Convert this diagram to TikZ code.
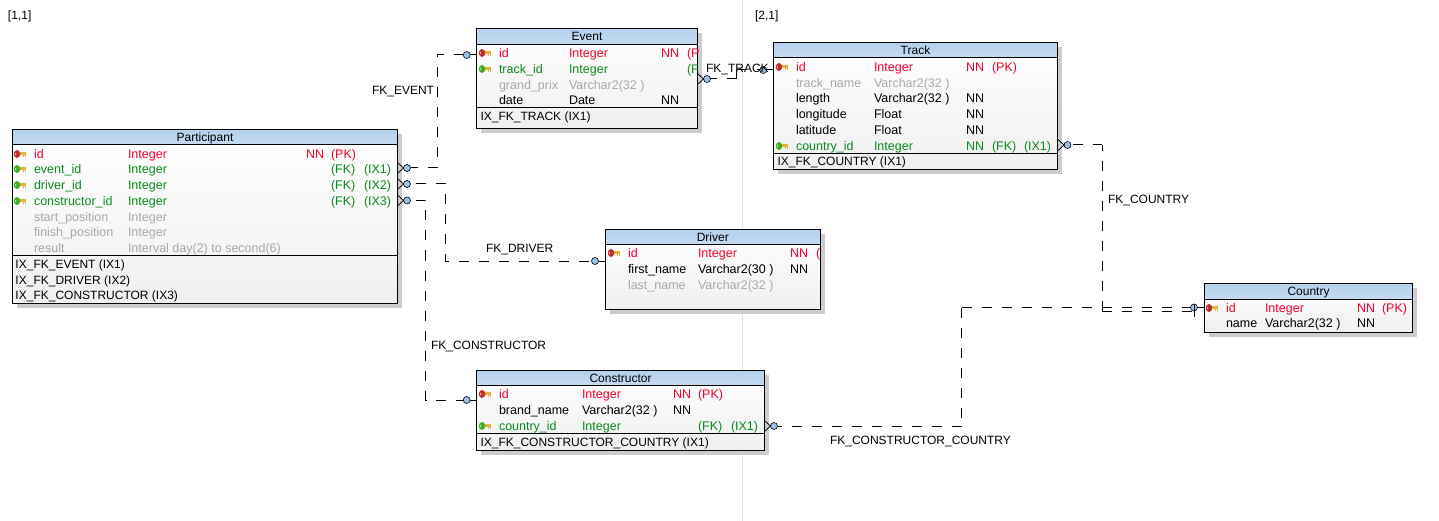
\documentclass[tikz,border=0pt]{standalone}
\usepackage{fontspec}
\setmainfont{Liberation Sans}
\usetikzlibrary{shadows}
\definecolor{keyred}{HTML}{C02A2A}
\definecolor{keygreen}{HTML}{3FB01E}
\definecolor{keyshaft}{HTML}{E2B23A}
\definecolor{pkcolor}{HTML}{F5002D}
\definecolor{fkcolor}{HTML}{0A8A1E}
\definecolor{dimcolor}{HTML}{A8A8A8}
\definecolor{dotblue}{HTML}{9CC0E8}
\definecolor{headtop}{HTML}{B5D1EC}
\definecolor{headbot}{HTML}{C4DAF1}

\newcommand{\cellnode}[5]{\if\relax\detokenize{#5}\relax\else\node[#1] (#2) at (#3,#4) {#5};\fi}
\newcommand{\fieldrow}[8]{%
  \cellnode{#2}{#1a}{\colname}{#3}{#4}
  \cellnode{#2}{#1b}{\coltype}{#3}{#5}
  \cellnode{#2}{#1c}{\colnn}{#3}{#6}
  \cellnode{#2}{#1d}{\colkey}{#3}{#7}
  \cellnode{#2}{#1e}{\colix}{#3}{#8}
}

\begin{document}
\begin{tikzpicture}[x=1pt, y=-1pt,
    every node/.style={font=\fontsize{12}{14}\selectfont, inner sep=0pt, outer sep=0pt},
    tablebox/.style={draw, line width=1pt, anchor=north west, top color=white, bottom color=black!6,
      drop shadow={shadow xshift=4.5pt, shadow yshift=-4.5pt, fill=black!20, opacity=1}},
    headbox/.style={draw, line width=1pt, anchor=north west, minimum height=15.5pt, text height=10.5pt, text depth=2.5pt,
      top color=headtop, bottom color=headbot},
    fieldtext/.style={anchor=base west, yshift=-0.8pt, font=\fontsize{12.5}{14}\selectfont},
    pkrow/.style={fieldtext, text=pkcolor},
    fkrow/.style={fieldtext, text=fkcolor},
    dimrow/.style={fieldtext, text=dimcolor},
    plainrow/.style={fieldtext, text=black},
    fktext/.style={anchor=base west, yshift=-0.8pt, text=black},
    fkline/.style={line width=1pt, dash pattern=on 10pt off 10pt},
    fkstub/.style={line width=1pt},
    fkdot/.style={draw, circle, fill=dotblue, line width=0.6pt, minimum size=7pt},
    pics/keyicon/.style={code={
      \fill[keyshaft] (-1,-1.8) rectangle (6,1);
      \fill[keyshaft] (2.8,1) rectangle (4,2.6);
      \fill[keyshaft] (4.8,1) rectangle (6,2.6);
      \fill[#1] (-3,0) ellipse (3.2 and 4);
      \fill[white!70!#1] (-4.4,0) ellipse (0.7 and 1.3);
    }},
    pics/crowfoot/.style={code={
      \draw[line width=0.8pt] (-6,-5.5) -- (0,0) -- (-6,5.5);
    }}
  ]
  \useasboundingbox (0,0) rectangle (1439,521);

  % Page border and page labels
  \coordinate (S1) at (742.5,0);
  \coordinate (S2) at (742.5,521);
  \draw[black!10, line width=1pt] (S1) -- (S2);
  \node[fktext] (L1) at (8,19) {[1,1]};
  \node[fktext] (L2) at (755,19) {[2,1]};

  % Participant
  \node[tablebox, minimum width=385pt, minimum height=174pt] (Participant) at (12.5,129.5) {};
  \node[headbox, minimum width=385pt] (PH) at (Participant.north west) {Participant};
  \draw[line width=1pt] (Participant.west |- 0,255.5) -- (Participant.east |- 0,255.5);
  \def\colname{34}\def\coltype{128}\def\colnn{306}\def\colkey{331}\def\colix{364}
  \fieldrow{P1}{pkrow}{158}{id}{Integer}{NN}{(PK)}{}
  \fieldrow{P2}{fkrow}{173}{event\_id}{Integer}{}{(FK)}{(IX1)}
  \fieldrow{P3}{fkrow}{189}{driver\_id}{Integer}{}{(FK)}{(IX2)}
  \fieldrow{P4}{fkrow}{205}{constructor\_id}{Integer}{}{(FK)}{(IX3)}
  \fieldrow{P5}{dimrow}{221}{start\_position}{Integer}{}{}{}
  \fieldrow{P6}{dimrow}{236}{finish\_position}{Integer}{}{}{}
  \fieldrow{P7}{dimrow}{252}{result}{Interval day(2) to second(6)}{}{}{}
  \node[fktext] (PI1) at (15.5,268) {IX\_FK\_EVENT (IX1)};
  \node[fktext] (PI2) at (15.5,284) {IX\_FK\_DRIVER (IX2)};
  \node[fktext] (PI3) at (15.5,299) {IX\_FK\_CONSTRUCTOR (IX3)};
  \pic at (20,154) {keyicon=keyred};
  \foreach \yy in {169,185,201} \pic at (20,\yy) {keyicon=keygreen};

  % Event
  \node[tablebox, minimum width=220.5pt, minimum height=99.5pt] (Event) at (476.8,28.8) {};
  \node[headbox, minimum width=220.5pt] (EH) at (Event.north west) {Event};
  \draw[line width=1pt] (Event.west |- 0,107.5) -- (Event.east |- 0,107.5);
  \def\colname{499}\def\coltype{569}\def\colnn{661}\def\colkey{687}\def\colix{720}
  \fieldrow{E1}{pkrow}{57}{id}{Integer}{NN}{(P}{}
  \fieldrow{E2}{fkrow}{73}{track\_id}{Integer}{}{(F}{}
  \fieldrow{E3}{dimrow}{89}{grand\_prix}{Varchar2(32 )}{}{}{}
  \fieldrow{E4}{plainrow}{104}{date}{Date}{NN}{}{}
  \node[fktext] (EI1) at (480.5,120) {IX\_FK\_TRACK (IX1)};
  \pic at (485,53) {keyicon=keyred};
  \pic at (485,69) {keyicon=keygreen};

  % Track
  \node[tablebox, minimum width=284pt, minimum height=127pt] (Track) at (773.5,42.5) {};
  \node[headbox, minimum width=284pt] (TH) at (Track.north west) {Track};
  \draw[line width=1pt] (Track.west |- 0,153.5) -- (Track.east |- 0,153.5);
  \def\colname{796}\def\coltype{874}\def\colnn{966}\def\colkey{992}\def\colix{1024}
  \fieldrow{T1}{pkrow}{71}{id}{Integer}{NN}{(PK)}{}
  \fieldrow{T2}{dimrow}{87}{track\_name}{Varchar2(32 )}{}{}{}
  \fieldrow{T3}{plainrow}{102}{length}{Varchar2(32 )}{NN}{}{}
  \fieldrow{T4}{plainrow}{118}{longitude}{Float}{NN}{}{}
  \fieldrow{T5}{plainrow}{134}{latitude}{Float}{NN}{}{}
  \fieldrow{T6}{fkrow}{150}{country\_id}{Integer}{NN}{(FK)}{(IX1)}
  \node[fktext] (TI1) at (777.5,165) {IX\_FK\_COUNTRY (IX1)};
  \pic at (782,67) {keyicon=keyred};
  \pic at (782,146) {keyicon=keygreen};

  % Driver
  \node[tablebox, minimum width=215.5pt, minimum height=80pt] (Driver) at (605,229.5) {};
  \node[headbox, minimum width=215.5pt] (DH) at (Driver.north west) {Driver};
  \def\colname{628}\def\coltype{698}\def\colnn{790}\def\colkey{816}\def\colix{850}
  \fieldrow{D1}{pkrow}{257}{id}{Integer}{NN}{(}{}
  \fieldrow{D2}{plainrow}{273}{first\_name}{Varchar2(30 )}{NN}{}{}
  \fieldrow{D3}{dimrow}{289}{last\_name}{Varchar2(32 )}{}{}{}
  \pic at (614,253) {keyicon=keyred};

  % Constructor
  \node[tablebox, minimum width=287.5pt, minimum height=80pt] (Constructor) at (476.8,370.3) {};
  \node[headbox, minimum width=287.5pt] (CH) at (Constructor.north west) {Constructor};
  \draw[line width=1pt] (Constructor.west |- 0,433.7) -- (Constructor.east |- 0,433.7);
  \def\colname{499}\def\coltype{582}\def\colnn{673}\def\colkey{698}\def\colix{731}
  \fieldrow{C1}{pkrow}{398}{id}{Integer}{NN}{(PK)}{}
  \fieldrow{C2}{plainrow}{414}{brand\_name}{Varchar2(32 )}{NN}{}{}
  \fieldrow{C3}{fkrow}{430}{country\_id}{Integer}{}{(FK)}{(IX1)}
  \node[fktext] (CI1) at (480.5,446) {IX\_FK\_CONSTRUCTOR\_COUNTRY (IX1)};
  \pic at (485,394) {keyicon=keyred};
  \pic at (485,426) {keyicon=keygreen};

  % Country
  \node[tablebox, minimum width=207.5pt, minimum height=48.6pt] (Country) at (1204.8,283.7) {};
  \node[headbox, minimum width=207.5pt] (NH) at (Country.north west) {Country};
  \def\colname{1226}\def\coltype{1265}\def\colnn{1357}\def\colkey{1382}\def\colix{1420}
  \fieldrow{N1}{pkrow}{312}{id}{Integer}{NN}{(PK)}{}
  \fieldrow{N2}{plainrow}{327}{name}{Varchar2(32 )}{NN}{}{}
  \pic at (1212,308) {keyicon=keyred};

  % Connector ends
  \node[fkdot] (PE) at (407,168) {};
  \node[fkdot] (PD) at (407,184) {};
  \node[fkdot] (PC) at (407,200.5) {};
  \node[fkdot] (EP) at (466.7,55) {};
  \node[fkdot] (DP) at (595,261) {};
  \node[fkdot] (CP) at (466.7,400) {};
  \node[fkdot] (ET) at (707,79) {};
  \node[fkdot] (TE) at (763.3,70) {};
  \node[fkdot] (TN) at (1067.5,145) {};
  \node[fkdot] (CN) at (774,426) {};
  \node[fkdot] (NC) at (1194,307.5) {};

  % Bends
  \coordinate (J1) at (437,55);
  \coordinate (J2) at (445.5,261);
  \coordinate (J3) at (425.5,400);
  \coordinate (J4) at (736.7,70);
  \coordinate (J5) at (1102.3,311);
  \coordinate (J6) at (961.5,307.5);
  \coordinate (J7) at (1193.5,311);

  % Dashed lines
  \draw[fkline, dash phase=3pt] (PE) -| (J1);
  \draw[fkline, dash phase=3pt] (J1) -- (EP);
  \draw[fkline, dash phase=15pt] (PD) -| (J2) -- (DP);
  \draw[fkline, dash phase=15pt] (PC) -| (J3) -- (CP);
  \draw[fkline, dash phase=4pt] (ET) -- (ET -| J4);
  \draw[fkline] (J4) -- (ET -| J4);
  \draw[fkline] (J4) -- (TE);
  \draw[fkline, dash phase=18pt] (TN) -- (TN -| J5);
  \draw[fkline] (J5) -- (TN -| J5);
  \draw[fkline] (J5) -- (J7);
  \draw[fkline, dash phase=6pt] (CN) -- (CN -| J6);
  \draw[fkline] (J6) -- (CN -| J6);
  \draw[fkline] (J6) -- (NC);

  % Stubs at the parent tables
  \draw[fkstub] (EP) -- (Event.west |- EP);
  \draw[fkstub] (DP) -- (Driver.west |- DP);
  \draw[fkstub] (CP) -- (Constructor.west |- CP);
  \draw[fkstub] (TE) -- (Track.west |- TE);
  \draw[fkstub] (NC) -- (Country.west |- NC);
  \draw[fkstub] ([yshift=4pt]NC.center) -- ([yshift=-9pt]NC.center);

  % Crow feet at the child tables
  \pic at (PE.west) {crowfoot};
  \pic at (PD.west) {crowfoot};
  \pic at (PC.west) {crowfoot};
  \pic at (ET.west) {crowfoot};
  \pic at (TN.west) {crowfoot};
  \pic at (CN.west) {crowfoot};

  % Labels
  \node[fktext] (F1) at (372,94) {FK\_EVENT};
  \node[fktext] (F2) at (486,252) {FK\_DRIVER};
  \node[fktext] (F3) at (431,348.5) {FK\_CONSTRUCTOR};
  \node[fktext] (F4) at (706,72) {FK\_TRACK};
  \node[fktext] (F5) at (1108,203) {FK\_COUNTRY};
  \node[fktext] (F6) at (830,444) {FK\_CONSTRUCTOR\_COUNTRY};
\end{tikzpicture}
\end{document}
